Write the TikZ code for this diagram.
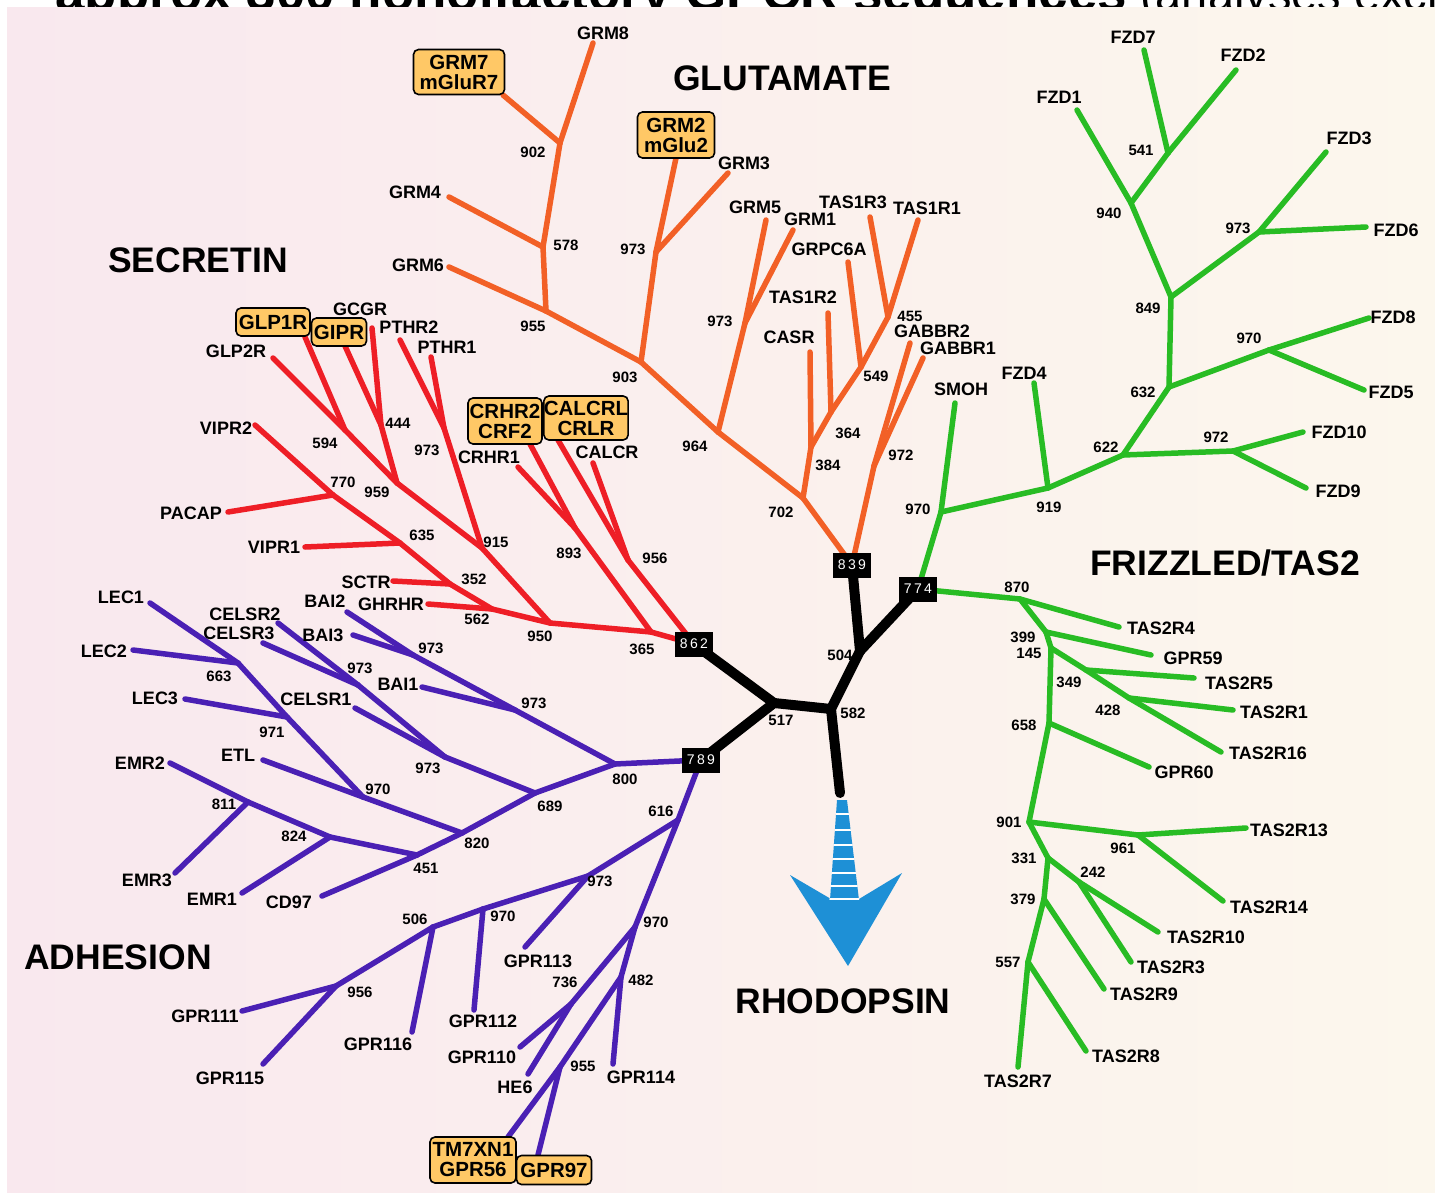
\documentclass[tikz,border=0pt]{standalone}
\usepackage{fontspec}
\setmainfont{Liberation Sans}
\definecolor{glu}{RGB}{242,96,38}
\definecolor{sec}{RGB}{238,30,38}
\definecolor{adh}{RGB}{74,32,180}
\definecolor{frz}{RGB}{40,188,36}
\definecolor{rho}{RGB}{30,144,214}
\definecolor{hlbox}{RGB}{255,200,102}
\definecolor{bgl}{RGB}{249,232,238}
\definecolor{bgr}{RGB}{252,247,237}
\begin{document}
\begin{tikzpicture}[x=1pt,y=-1pt,
    br/.style={line width=5.5pt,line cap=round},
    trunk/.style={line width=10pt,line cap=round},
    leaf/.style={font=\bfseries\fontsize{18}{18}\selectfont,inner sep=0pt},
    boot/.style={font=\bfseries\fontsize{15}{15}\selectfont,inner sep=0pt},
    family/.style={font=\bfseries\fontsize{35.5}{36}\selectfont,inner sep=0pt},
    hl/.style={draw=black,line width=1.6pt,fill=hlbox,rounded corners=5pt,align=center,
      inner sep=0pt,font=\bfseries\fontsize{20.5}{20}\selectfont},
    rootbox/.style={fill=black,text=white,minimum width=38pt,minimum height=25pt,
      inner sep=0pt,font=\fontsize{14}{14}\selectfont}]
  \useasboundingbox (0,0) rectangle (1435,1194);
  % title cut off by the figure
  \node[anchor=base west,inner sep=0pt,font=\bfseries\fontsize{53}{53}\selectfont] (title) at (55,10) {approx 300 nonolfactory GPCR sequences};
  \node[anchor=base west,inner sep=0pt,font=\fontsize{47}{47}\selectfont] (title2) at (1140,10) {(analyses excl};
  \shade[left color=bgl,right color=bgr] (7,7) rectangle (1435,1192);

  % branch points and leaf ends
  \foreach \nm/\x/\y in {k839/852/565, g702/803/498, g384/811/447, g364/831/412, g549/861/367,
      g455/888/317, g972/874/466, g964/718/432, g973a/745/323, g903/641/362, g973b/656/252,
      g955/546/311, g578/543/247, g902/560/143,
      casr/810/352, tas1r2/828/313, grpc6a/848/262, tas1r3/870/217, tas1r1/918/220,
      gabbr2/910/343, gabbr1/923/358, grm5/766/220, grm1/793/230, grm2/676/158, grm3/728/173,
      grm6/449/267, grm4/449/197, grm7/503/95, grm8/593/43}
    \coordinate (\nm) at (\x,\y);
  \foreach \nm/\x/\y in {k862/694/644, s365/651/632, s950/550/623, s562/492/609, s352/450/584,
      s635/400/543, s770/333/495, s915/482/548, s973/444/428, s959/397/483, s594/345/430,
      s444/381/425, s893/575/528, s956/628/560,
      vipr2/255/425, pacap/228/512, vipr1/305/547, sctr/393/581, ghrhr/428/604, glp2r/273/358,
      glp1r/305/337, gipr/345/346, gcgr/372/328, pthr2/400/340, pthr1/431/357, crhr1/518/467,
      crhr2/530/444, calcrl/558/440, calcr/593/463}
    \coordinate (\nm) at (\x,\y);
  \foreach \nm/\x/\y in {k789/701/760, a800/615/764, a973c/515/710, a973d/413/655, a689/535/793,
      a973e/445/757, a973f/358/685, a820/462/833, a970a/363/797, a971/287/717, a663/238/663,
      a451/417/855, a824/330/837, a811/248/802, a616/678/820, a973g/588/876, a970b/483/909,
      a506/433/927, a956/336/986, a970c/635/927, a736/571/1004, a482/621/977, a955/560/1067,
      bai2/347/612, bai3/353/635, bai1/422/687, celsr2/278/623, celsr3/263/643, celsr1/355/708,
      lec1/150/603, lec2/133/650, lec3/185/699, etl/263/760, emr2/170/763, emr3/175/873,
      emr1/242/893, cd97/322/896, gpr113/525/947, gpr112/474/1010, gpr116/412/1032,
      gpr111/242/1011, gpr115/263/1064, gpr110/520/1047, he6/528/1074, gpr114/613/1064,
      tm7xn1/508/1137, gpr97/538/1155}
    \coordinate (\nm) at (\x,\y);
  \foreach \nm/\x/\y in {k774/918/589, f970a/941/512, f919/1048/488, f622/1123/455,
      f972/1233/451, f632/1169/387, f970b/1269/350, f849/1171/297, f973/1259/232,
      f940/1131/203, f541/1168/153, f870/1020/599, f399/1046/632, f145/1051/648,
      f349/1086/670, f428/1129/698, f658/1049/723, f901/1029/822, f961/1138/835,
      f331/1048/858, f242/1079/882, f379/1044/899, f557/1028/962,
      smoh/955/403, fzd4/1034/383, fzd10/1303/432, fzd9/1306/488, fzd8/1369/318,
      fzd5/1364/390, fzd3/1326/152, fzd6/1366/227, fzd1/1077/110, fzd7/1144/50,
      fzd2/1236/70, tas2r4/1119/627, gpr59/1151/655, tas2r5/1194/678, tas2r1/1233/710,
      tas2r16/1221/752, gpr60/1149/767, tas2r13/1246/828, tas2r14/1223/901,
      tas2r10/1158/932, tas2r3/1131/962, tas2r9/1104/989, tas2r8/1086/1051, tas2r7/1018/1067}
    \coordinate (\nm) at (\x,\y);
  \foreach \nm/\x/\y in {k517/774/703, k582/831/709, k504/860/651, krho/840/793}
    \coordinate (\nm) at (\x,\y);

  % glutamate
  \foreach \p/\q in {k839/g702, g702/g384, g384/casr, g384/g364, g364/tas1r2, g364/g549,
      g549/grpc6a, g549/g455, g455/tas1r3, g455/tas1r1, k839/g972, g972/gabbr2, g972/gabbr1,
      g702/g964, g964/g973a, g973a/grm5, g973a/grm1, g964/g903, g903/g973b, g973b/grm2,
      g973b/grm3, g903/g955, g955/grm6, g955/g578, g578/grm4, g578/g902, g902/grm7, g902/grm8}
    \draw[br,glu] (\p) -- (\q);
  % secretin
  \foreach \p/\q in {k862/s365, s365/s950, s365/s893, k862/s956, s950/s562, s562/ghrhr,
      s562/s352, s352/sctr, s352/s635, s635/vipr1, s635/s770, s770/pacap, s770/vipr2,
      s950/s915, s915/s973, s973/pthr2, s973/pthr1, s915/s959, s959/s594, s594/glp2r,
      s594/glp1r, s959/s444, s444/gipr, s444/gcgr, s893/crhr1, s893/crhr2, s956/calcrl,
      s956/calcr}
    \draw[br,sec] (\p) -- (\q);
  % adhesion
  \foreach \p/\q in {k789/a800, a800/a973c, a973c/bai1, a973c/a973d, a973d/bai2, a973d/bai3,
      a800/a689, a689/a973e, a973e/celsr1, a973e/a973f, a973f/celsr2, a973f/celsr3,
      a689/a820, a820/a451, a451/cd97, a451/a824, a824/emr1, a824/a811, a811/emr2, a811/emr3,
      a820/a970a, a970a/etl, a970a/a971, a971/lec3, a971/a663, a663/lec1, a663/lec2,
      k789/a616, a616/a973g, a973g/gpr113, a973g/a970b, a970b/gpr112, a970b/a506,
      a506/gpr116, a506/a956, a956/gpr111, a956/gpr115, a616/a970c, a970c/a736,
      a736/gpr110, a736/he6, a970c/a482, a482/gpr114, a482/a955, a955/tm7xn1, a955/gpr97}
    \draw[br,adh] (\p) -- (\q);
  % frizzled / tas2
  \foreach \p/\q in {k774/f970a, f970a/smoh, f970a/f919, f919/fzd4, f919/f622, f622/f972,
      f972/fzd10, f972/fzd9, f622/f632, f632/f970b, f970b/fzd8, f970b/fzd5, f632/f849,
      f849/f973, f973/fzd3, f973/fzd6, f849/f940, f940/fzd1, f940/f541, f541/fzd7, f541/fzd2,
      k774/f870, f870/tas2r4, f870/f399, f399/gpr59, f399/f145, f145/f349, f349/tas2r5,
      f349/f428, f428/tas2r1, f428/tas2r16, f145/f658, f658/gpr60, f658/f901, f901/f961,
      f961/tas2r13, f961/tas2r14, f901/f331, f331/f242, f242/tas2r10, f242/tas2r3,
      f331/f379, f379/tas2r9, f379/f557, f557/tas2r8, f557/tas2r7}
    \draw[br,frz] (\p) -- (\q);
  % root
  \foreach \p/\q in {k862/k517, k789/k517, k517/k582, k582/k504, k504/k839, k504/k774, k582/krho}
    \draw[trunk] (\p) -- (\q);

  % rhodopsin arrow
  \fill[rho] (837,800) -- (847,800) -- (859,900) -- (830,900) -- cycle;
  \fill[rho] (790,875) -- (831,899) -- (859,899) -- (902,873) -- (848,966) -- cycle;
  \begin{scope}
    \clip (837,799) -- (847,799) -- (860,906) -- (829,906) -- cycle;
    \foreach \yy in {814,830,845,859,873,886,899}
      \draw[white,line width=1.6pt] (820,\yy) -- (870,\yy);
  \end{scope}

  % boxes at the family roots
  \node[rootbox] (c862) at (k862) {8\,6\,2};
  \node[rootbox] (c839) at (k839) {8\,3\,9};
  \node[rootbox] (c774) at (k774) {7\,7\,4};
  \node[rootbox] (c789) at (k789) {7\,8\,9};

  % leaf labels
  \foreach \nm/\x/\y/\txt in {grm8-l/603/33/GRM8, grm4-l/415/192/GRM4, grm6-l/418/265/GRM6,
      grm3-l/744/163/GRM3, grm5-l/755/207/GRM5, grm1-l/810/219/GRM1, tas1r3-l/853/202/TAS1R3,
      tas1r1-l/927/208/TAS1R1, grpc6a-l/829/249/GRPC6A, tas1r2-l/803/297/TAS1R2,
      casr-l/789/337/CASR, gabbr2-l/932/331/GABBR2, gabbr1-l/958/348/GABBR1,
      glp2r-l/236/351/GLP2R, gcgr-l/360/309/GCGR, pthr2-l/409/327/PTHR2, pthr1-l/447/347/PTHR1,
      vipr2-l/226/428/VIPR2, pacap-l/191/513/PACAP, vipr1-l/274/547/VIPR1, sctr-l/366/582/SCTR,
      ghrhr-l/391/604/GHRHR, crhr1-l/489/457/CRHR1, calcr-l/607/452/CALCR,
      lec1-l/121/597/LEC1, lec2-l/104/651/LEC2, lec3-l/155/698/LEC3, celsr2-l/245/614/CELSR2,
      celsr3-l/239/633/CELSR3, bai2-l/325/601/BAI2, bai3-l/323/635/BAI3, bai1-l/398/684/BAI1,
      celsr1-l/316/699/CELSR1, etl-l/238/755/ETL, emr2-l/140/763/EMR2, emr3-l/147/880/EMR3,
      emr1-l/212/899/EMR1, cd97-l/289/902/CD97, gpr113-l/538/961/GPR113,
      gpr112-l/483/1021/GPR112, gpr116-l/378/1044/GPR116, gpr111-l/205/1016/GPR111,
      gpr115-l/230/1078/GPR115, gpr110-l/482/1057/GPR110, he6-l/515/1087/HE6,
      gpr114-l/641/1077/GPR114,
      smoh-l/961/389/SMOH, fzd4-l/1024/373/FZD4, fzd10-l/1339/432/FZD10, fzd9-l/1338/491/FZD9,
      fzd8-l/1393/317/FZD8, fzd5-l/1391/392/FZD5, fzd3-l/1349/138/FZD3, fzd6-l/1396/230/FZD6,
      fzd1-l/1059/97/FZD1, fzd7-l/1133/37/FZD7, fzd2-l/1243/55/FZD2, tas2r4-l/1161/628/TAS2R4,
      gpr59-l/1193/658/GPR59, tas2r5-l/1239/683/TAS2R5, tas2r1-l/1274/712/TAS2R1,
      tas2r16-l/1268/753/TAS2R16, gpr60-l/1184/772/GPR60, tas2r13-l/1289/830/TAS2R13,
      tas2r14-l/1269/907/TAS2R14, tas2r10-l/1206/937/TAS2R10, tas2r3-l/1171/967/TAS2R3,
      tas2r9-l/1144/994/TAS2R9, tas2r8-l/1126/1056/TAS2R8, tas2r7-l/1018/1081/TAS2R7}
    \node[leaf] (\nm) at (\x,\y) {\txt};

  % bootstrap values
  \foreach \nm/\x/\y/\txt in {bg902/533/152/902, bg578/566/245/578, bg973b/633/249/973,
      bg955/533/326/955, bg903/625/377/903, bg973a/720/321/973, bg964/695/446/964,
      bg702/781/512/702, bg384/828/465/384, bg364/848/433/364, bg549/876/376/549,
      bg455/910/316/455, bg972/901/455/972,
      bs594/325/443/594, bs444/398/423/444, bs973/427/450/973, bs959/377/492/959,
      bs770/343/482/770, bs915/496/542/915, bs635/422/535/635, bs352/474/579/352,
      bs562/477/619/562, bs893/569/553/893, bs956/655/558/956, bs950/540/636/950,
      bs365/642/649/365,
      ba973d/431/648/973, ba973f/360/668/973, ba663/219/676/663, ba971/272/732/971,
      ba973c/534/703/973, ba973e/428/768/973, ba970a/378/789/970, ba811/224/804/811,
      ba824/294/836/824, ba820/477/843/820, ba451/426/868/451, ba689/550/806/689,
      ba800/625/779/800, ba616/661/811/616, ba973g/600/881/973, ba970b/503/916/970,
      ba506/415/919/506, ba956/360/992/956, ba970c/656/922/970, ba736/565/982/736,
      ba482/641/980/482, ba955/583/1066/955,
      bf970a/918/509/970, bf919/1049/507/919, bf622/1106/447/622, bf972/1216/437/972,
      bf632/1143/392/632, bf970b/1249/338/970, bf849/1148/308/849, bf973/1238/228/973,
      bf940/1109/213/940, bf541/1141/150/541, bf870/1017/587/870, bf399/1023/637/399,
      bf145/1029/653/145, bf349/1069/682/349, bf428/1108/710/428, bf658/1024/725/658,
      bf901/1009/822/901, bf961/1123/848/961, bf331/1024/858/331, bf242/1093/872/242,
      bf379/1023/899/379, bf557/1008/962/557,
      bk517/781/720/517, bk582/853/713/582, bk504/840/655/504}
    \node[boot] (\nm) at (\x,\y) {\txt};

  % highlighted receptors
  \node[hl,minimum width=91pt,minimum height=45pt] (grm7-b) at (459,72) {GRM7\\mGluR7};
  \node[hl,minimum width=77pt,minimum height=46pt] (grm2-b) at (676,135) {GRM2\\mGlu2};
  \node[hl,minimum width=74pt,minimum height=28pt] (glp1r-b) at (273,322) {GLP1R};
  \node[hl,minimum width=55pt,minimum height=28pt] (gipr-b) at (339,332) {GIPR};
  \node[hl,minimum width=74pt,minimum height=46pt] (crhr2-b) at (505,421) {CRHR2\\CRF2};
  \node[hl,minimum width=84pt,minimum height=44pt] (calcrl-b) at (586,418) {CALCRL\\CRLR};
  \node[hl,minimum width=86pt,minimum height=46pt] (tm7-b) at (473,1160) {TM7XN1\\GPR56};
  \node[hl,minimum width=75pt,minimum height=29pt] (gpr97-b) at (554,1170) {GPR97};

  % family names
  \node[family] (glutamate) at (782,78) {GLUTAMATE};
  \node[family] (secretin) at (198,260) {SECRETIN};
  \node[family] (frizzled) at (1225,563) {FRIZZLED/TAS2};
  \node[family] (adhesion) at (118,957) {ADHESION};
  \node[family] (rhodopsin) at (843,1001) {RHODOPSIN};
\end{tikzpicture}
\end{document}
